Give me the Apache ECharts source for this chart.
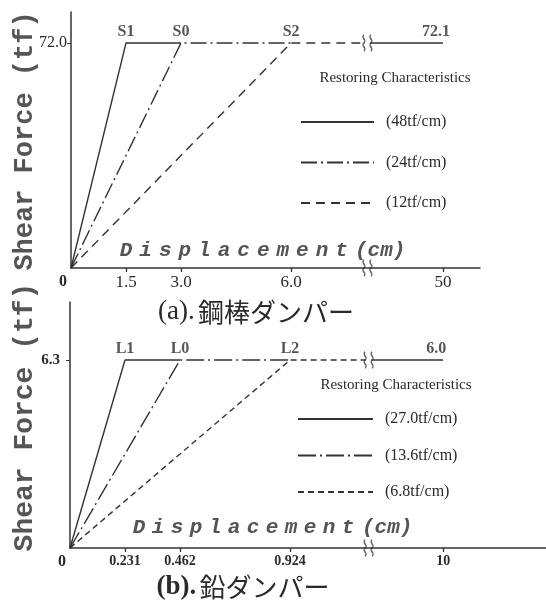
<!DOCTYPE html>
<html>
<head>
<meta charset="utf-8">
<script src="https://cdn.jsdelivr.net/npm/echarts@6/dist/echarts.min.js"></script>
<style>
  html, body { margin: 0; padding: 0; background: #fff; }
  #chart { width: 546px; height: 604px; }
</style>
</head>
<body>
<div id="chart"></div>
<script>
// (a) 鋼棒ダンパー
const stiffA = ['(48tf/cm)', '(24tf/cm)', '(12tf/cm)'];
const yieldDispA = [1.5, 3.0, 6.0];
const yieldForceA = 72.0;
const pointNamesA = ['S1', 'S0', 'S2'];
const endDispA = 50;
const endForceA = 72.1;
const xTicksA = [0, 1.5, 3.0, 6.0, 50];
const xTickLabelsA = ['0', '1.5', '3.0', '6.0', '50'];

// (b) 鉛ダンパー
const stiffB = ['(27.0tf/cm)', '(13.6tf/cm)', '(6.8tf/cm)'];
const yieldDispB = [0.231, 0.462, 0.924];
const yieldForceB = 6.3;
const pointNamesB = ['L1', 'L0', 'L2'];
const endDispB = 10;
const endForceB = 6.0;
const xTicksB = [0, 0.231, 0.462, 0.924, 10];
const xTickLabelsB = ['0', '0.231', '0.462', '0.924', '10'];

// axis break: values past `end` jump to `resume`, drawn from resumePos
const brkA = { end: 8.0, resume: 45, resumePos: 8.16, lastPos: 10.14 };
const brkB = { end: 1.24, resume: 9.0, resumePos: 1.268, lastPos: 1.567 };

const INK = '#2a2a2a';
const LINE = '#333';
const GREY = '#555';

function mapX(v, brk, last) {
    if (v <= brk.end) return v;
    return brk.resumePos + (v - brk.resume) / (last - brk.resume) * (brk.lastPos - brk.resumePos);
}

function panelSeries(p, gi) {
    let out = [];
    p.stiff.forEach(function (name, i) {
        let next = i < p.yieldDisp.length - 1 ? p.yieldDisp[i + 1] : p.brk.end;
        out.push({
            name: name, type: 'line', xAxisIndex: gi, yAxisIndex: gi,
            symbol: 'none', silent: true,
            itemStyle: { color: LINE },
            lineStyle: { color: LINE, width: 1.4, type: p.dashes[i] },
            data: [[0, 0],
                   [mapX(p.yieldDisp[i], p.brk, p.endDisp), p.yieldForce],
                   [mapX(next, p.brk, p.endDisp), p.yieldForce]]
        });
    });
    // solid part after the break
    out.push({
        name: 'tail' + gi, type: 'line', xAxisIndex: gi, yAxisIndex: gi,
        symbol: 'none', silent: true,
        lineStyle: { color: LINE, width: 1.4 },
        data: [[mapX(p.brk.resume, p.brk, p.endDisp), p.yieldForce],
               [mapX(p.endDisp, p.brk, p.endDisp), p.yieldForce]]
    });
    // point names S1, S0 ... and end value
    let lab = p.yieldDisp.map(function (d, i) {
        return { value: [mapX(d, p.brk, p.endDisp), p.yieldForce], label: { formatter: p.names[i] } };
    });
    lab.push({ value: [mapX(p.endDisp, p.brk, p.endDisp), p.yieldForce],
               label: { formatter: p.endForce.toFixed(1), offset: [-7, 0] } });
    out.push({
        type: 'scatter', xAxisIndex: gi, yAxisIndex: gi, silent: true,
        symbolSize: 1, itemStyle: { color: 'rgba(0,0,0,0)' },
        label: { show: true, position: 'top', distance: 3, color: INK,
                 fontFamily: 'Liberation Serif', fontWeight: 'bold', fontSize: 16 },
        data: lab
    });
    // break marks
    let mid = (p.brk.end + p.brk.resumePos) / 2;
    out.push({
        type: 'scatter', xAxisIndex: gi, yAxisIndex: gi, silent: true, z: 5,
        symbol: 'path://M2,0 C0,3 4,5 2,8 C0,11 4,13 2,16 M6,0 C4,3 8,5 6,8 C4,11 8,13 6,16',
        symbolSize: [9, 16],
        itemStyle: { color: 'none', borderColor: LINE, borderWidth: 1.6 },
        data: [[mid, p.yieldForce], [mid, 0]]
    });
    return out;
}

const panelA = { stiff: stiffA, yieldDisp: yieldDispA, yieldForce: yieldForceA, names: pointNamesA,
    endDisp: endDispA, endForce: endForceA, brk: brkA,
    dashes: ['solid', [16, 4, 2, 4], [9, 6]] };
const panelB = { stiff: stiffB, yieldDisp: yieldDispB, yieldForce: yieldForceB, names: pointNamesB,
    endDisp: endDispB, endForce: endForceB, brk: brkB,
    dashes: ['solid', [18, 4, 2, 4], [6, 4]] };

function xAxisFor(gi, ticks, labels, brk, last, max, font) {
    let pos = ticks.map(function (v) { return mapX(v, brk, last); });
    return {
        gridIndex: gi, type: 'value', min: 0, max: max,
        splitLine: { show: false },
        axisLine: { lineStyle: { color: LINE, width: 1.5 } },
        axisTick: { customValues: pos.slice(1), length: 4, lineStyle: { color: LINE, width: 1.3 } },
        axisLabel: {
            customValues: pos, margin: 6, color: INK,
            fontFamily: 'Liberation Serif', fontSize: font.size, fontWeight: font.weight,
            formatter: function (v) {
                let i = pos.findIndex(function (q) { return Math.abs(q - v) < 1e-6; });
                return i === 0 ? '{o|0}' : labels[i];
            },
            rich: { o: { padding: [0, 16, 0, 0], fontFamily: 'Liberation Serif', fontSize: 16,
                         fontWeight: 'bold', color: INK } }
        }
    };
}

function yAxisFor(gi, max, tick, font, pad) {
    return {
        gridIndex: gi, type: 'value', min: 0, max: max,
        splitLine: { show: false },
        axisLine: { show: true, lineStyle: { color: LINE, width: 1.5 } },
        axisTick: { show: true, customValues: [tick], length: 4, lineStyle: { color: LINE } },
        axisLabel: {
            customValues: [tick], margin: font.margin, color: INK, padding: pad,
            fontFamily: 'Liberation Serif', fontSize: font.size, fontWeight: font.weight,
            formatter: function () { return tick.toFixed(1); }
        }
    };
}

function spaced(str, x0, y, pitch) {
    return str.split('').map(function (ch, i) {
        return { type: 'text', x: x0 + i * pitch, y: y, silent: true,
                 style: { text: ch, font: 'italic bold 21px "Liberation Mono"', fill: GREY,
                          align: 'center', verticalAlign: 'middle' } };
    });
}

function txt(x, y, text, font, extra, fill) {
    return Object.assign({ type: 'text', x: x, y: y, silent: true,
        style: { text: text, font: font, fill: fill || INK, align: 'center', verticalAlign: 'middle' } }, extra || {});
}

let graphic = [
    txt(395, 78, 'Restoring Characteristics', '15px "Liberation Serif"'),
    txt(396, 385, 'Restoring Characteristics', '15px "Liberation Serif"'),
    txt(25, 141, 'Shear Force (tf)', 'bold 27px "Liberation Mono"', { rotation: Math.PI / 2 }, GREY),
    txt(25, 417, 'Shear Force (tf)', 'bold 28px "Liberation Mono"', { rotation: Math.PI / 2 }, GREY),
    { type: 'text', x: 355, y: 251, silent: true,
      style: { text: '(cm)', font: 'italic bold 21px "Liberation Mono"', fill: GREY, verticalAlign: 'middle' } },
    { type: 'text', x: 362, y: 528, silent: true,
      style: { text: '(cm)', font: 'italic bold 21px "Liberation Mono"', fill: GREY, verticalAlign: 'middle' } },
    { type: 'text', x: 256, y: 312, silent: true,
      style: { text: '{l|(a).} {j|鋼棒ダンパー}', align: 'center', verticalAlign: 'middle',
               rich: { l: { fontFamily: 'Liberation Serif', fontSize: 27, fill: INK },
                       j: { fontFamily: '"Noto Sans CJK JP"', fontSize: 26, fill: INK } } } },
    { type: 'text', x: 243, y: 587, silent: true,
      style: { text: '{l|(b).} {j|鉛ダンパー}', align: 'center', verticalAlign: 'middle',
               rich: { l: { fontFamily: 'Liberation Serif', fontSize: 27, fontWeight: 'bold', fill: INK },
                       j: { fontFamily: '"Noto Sans CJK JP"', fontSize: 26, fill: INK } } } }
].concat(spaced('Displacement', 126, 251, 19.6), spaced('Displacement', 139, 528, 19));

const legendText = { fontFamily: 'Liberation Serif', fontSize: 16, color: INK, padding: [0, 0, 0, 7] };
// line-only legend keys, no symbol
const legendItem = { color: 'rgba(0,0,0,0)', borderWidth: 0, opacity: 0 };

let option = {
    animation: false,
    backgroundColor: '#fff',
    grid: [
        { left: 71, top: 12, width: 409, height: 256 },
        { left: 70, top: 302, width: 476, height: 246 }
    ],
    xAxis: [
        xAxisFor(0, xTicksA, xTickLabelsA, brkA, endDispA, 11.15, { size: 17, weight: 'normal' }),
        xAxisFor(1, xTicksB, xTickLabelsB, brkB, endDispB, 1.999, { size: 14, weight: 'bold' })
    ],
    yAxis: [
        yAxisFor(0, 81.9, yieldForceA, { size: 16, weight: 'normal', margin: 4 }, 0),
        yAxisFor(1, 8.244, yieldForceB, { size: 15, weight: 'bold', margin: 10 }, [6, 0, 0, 0])
    ],
    legend: [
        { data: stiffA, orient: 'vertical', left: 295, top: 109, itemWidth: 73, itemHeight: 14,
          itemGap: 24.5, selectedMode: false, textStyle: legendText, itemStyle: legendItem },
        { data: stiffB, orient: 'vertical', left: 292, top: 406, itemWidth: 75, itemHeight: 14,
          itemGap: 20.5, selectedMode: false, textStyle: legendText, itemStyle: legendItem }
    ],
    graphic: graphic,
    series: panelSeries(panelA, 0).concat(panelSeries(panelB, 1))
};

let myChart = echarts.init(document.getElementById('chart'));
myChart.setOption(option);
</script>
</body>
</html>
